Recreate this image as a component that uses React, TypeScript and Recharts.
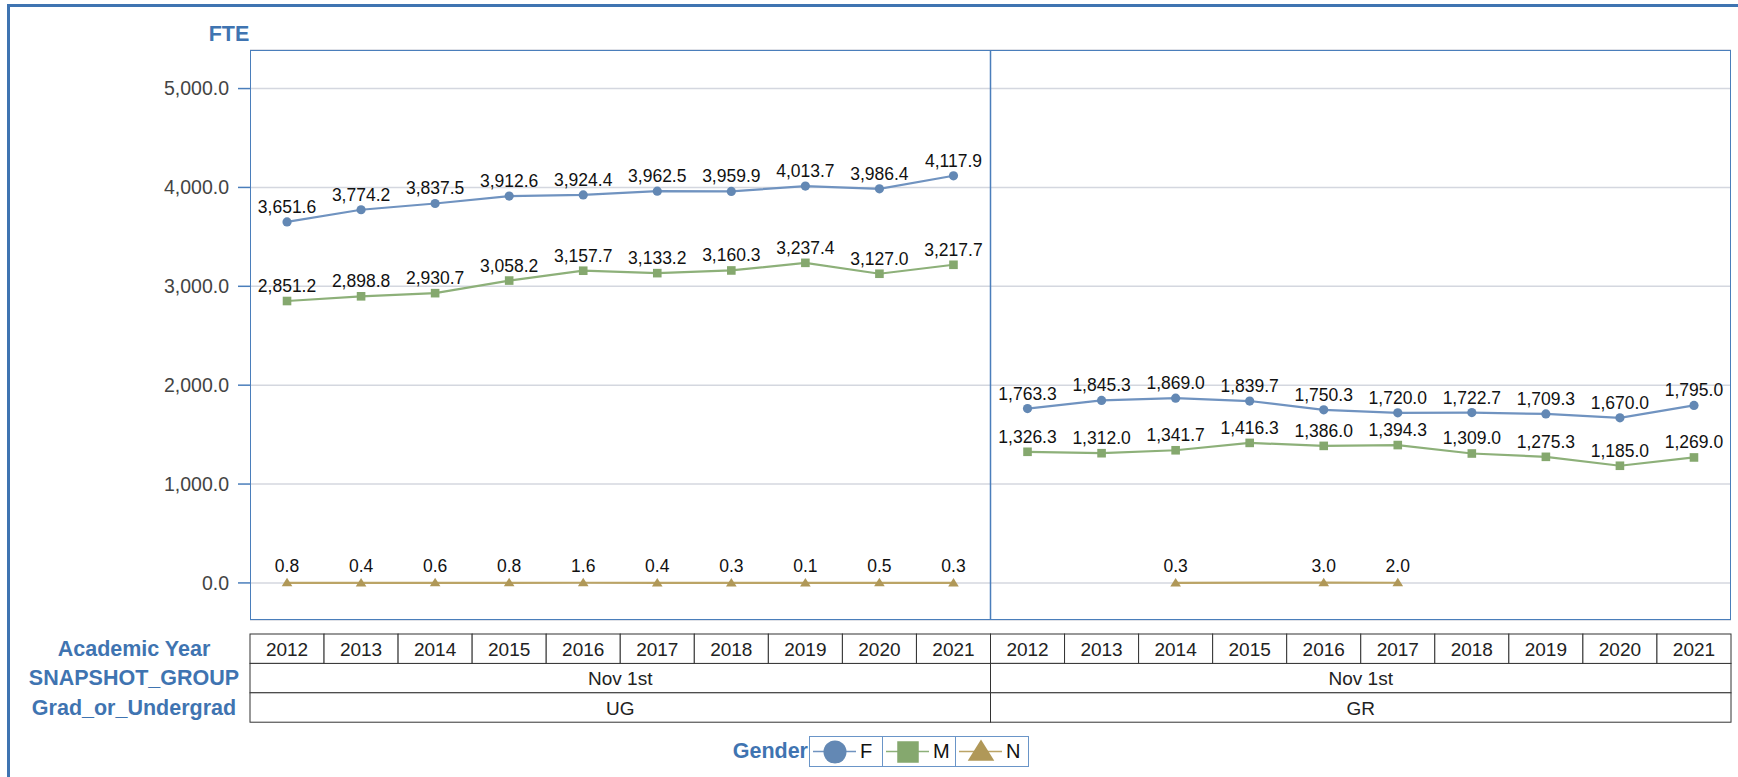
import React from "react";
import {
  CartesianGrid,
  LabelList,
  Line,
  LineChart,
  ReferenceLine,
  XAxis,
  YAxis,
} from "recharts";

// values
const years = ["2012", "2013", "2014", "2015", "2016", "2017", "2018", "2019", "2020", "2021"];
const groups = ["UG", "GR"];
const snapshot = "Nov 1st";
const yTicks = [0, 1000, 2000, 3000, 4000, 5000];

const fUG = [3651.6, 3774.2, 3837.5, 3912.6, 3924.4, 3962.5, 3959.9, 4013.7, 3986.4, 4117.9];
const mUG = [2851.2, 2898.8, 2930.7, 3058.2, 3157.7, 3133.2, 3160.3, 3237.4, 3127.0, 3217.7];
const nUG = [0.8, 0.4, 0.6, 0.8, 1.6, 0.4, 0.3, 0.1, 0.5, 0.3];
const fGR = [1763.3, 1845.3, 1869.0, 1839.7, 1750.3, 1720.0, 1722.7, 1709.3, 1670.0, 1795.0];
const mGR = [1326.3, 1312.0, 1341.7, 1416.3, 1386.0, 1394.3, 1309.0, 1275.3, 1185.0, 1269.0];
const nGR = [null, null, 0.3, null, 3.0, 2.0, null, null, null, null];

const rows = groups.flatMap((g, gi) =>
  years.map((y, yi) => ({
    pos: gi * years.length + yi + 0.5,
    year: y,
    group: g,
    F_UG: gi === 0 ? fUG[yi] : null,
    M_UG: gi === 0 ? mUG[yi] : null,
    N_UG: gi === 0 ? nUG[yi] : null,
    F_GR: gi === 1 ? fGR[yi] : null,
    M_GR: gi === 1 ? mGR[yi] : null,
    N_GR: gi === 1 ? nGR[yi] : null,
  }))
);

const COLORS: Record<string, { line: string; dot: string }> = {
  F: { line: "#7093c0", dot: "#6388b4" },
  M: { line: "#8db079", dot: "#85a86e" },
  N: { line: "#bba466", dot: "#b09858" },
};
const SHAPES: Record<string, string> = { F: "circle", M: "square", N: "triangle" };

const W = 1738;
const H = 777;
const PLOT_L = 250;
const PLOT_R = 1731;
const PLOT_T = 50;
const PLOT_B = 620;
const BAND = (PLOT_R - PLOT_L) / rows.length;
const TABLE_TOP = 634;
const ROW_H = 29.4;
const FONT = "'Liberation Sans', Arial, sans-serif";
const BLUE = "#3f74b1";

const fmt = (v: any) =>
  v == null || v === ""
    ? ""
    : Number(v).toLocaleString("en-US", { minimumFractionDigits: 1, maximumFractionDigits: 1 });

function marker(shape: string, color: string, x: number, y: number, s = 1, key?: string) {
  if (shape === "circle") return <circle key={key} cx={x} cy={y} r={4.6 * s} fill={color} />;
  if (shape === "square")
    return <rect key={key} x={x - 4.3 * s} y={y - 4.3 * s} width={8.6 * s} height={8.6 * s} fill={color} />;
  return (
    <path
      key={key}
      d={`M${x},${y - 5 * s} L${x + 5.3 * s},${y + 3.5 * s} L${x - 5.3 * s},${y + 3.5 * s} Z`}
      fill={color}
    />
  );
}

const dotFor = (g: string) => (p: any) => {
  if (p.cy == null || p.value == null || (Array.isArray(p.value) && p.value[1] == null))
    return <g key={`e${p.index}`} />;
  return marker(SHAPES[g], COLORS[g].dot, p.cx, p.cy, 1, `d${p.index}`);
};

function TableTick(props: any) {
  const { x, index } = props;
  const r = rows[index];
  if (!r) return null;
  const left = x - BAND / 2;
  const cells = [
    <g key="y">
      <rect x={left} y={TABLE_TOP} width={BAND} height={ROW_H} fill="#fff" stroke="#333" strokeWidth={1} />
      <text x={x} y={TABLE_TOP + ROW_H / 2 + 7} textAnchor="middle" fontSize={19} fontFamily={FONT} fill="#222">
        {r.year}
      </text>
    </g>,
  ];
  if (index % years.length === 0) {
    const gw = BAND * years.length;
    cells.push(
      <g key="g">
        <rect x={left} y={TABLE_TOP + ROW_H} width={gw} height={ROW_H} fill="#fff" stroke="#333" strokeWidth={1} />
        <text x={left + gw / 2} y={TABLE_TOP + ROW_H * 1.5 + 7} textAnchor="middle" fontSize={19} fontFamily={FONT} fill="#222">
          {snapshot}
        </text>
        <rect x={left} y={TABLE_TOP + ROW_H * 2} width={gw} height={ROW_H} fill="#fff" stroke="#333" strokeWidth={1} />
        <text x={left + gw / 2} y={TABLE_TOP + ROW_H * 2.5 + 7} textAnchor="middle" fontSize={19} fontFamily={FONT} fill="#222">
          {r.group}
        </text>
      </g>
    );
  }
  return <g>{cells}</g>;
}

const seriesKeys = ["F", "M", "N"].flatMap((g) => groups.map((grp) => ({ g, key: `${g}_${grp}` })));

const sideLabel: React.CSSProperties = {
  position: "absolute",
  left: 0,
  width: 268,
  textAlign: "center",
  color: BLUE,
  fontWeight: "bold",
  fontSize: 21.5,
  fontFamily: FONT,
  lineHeight: "24px",
};

export default function App() {
  return (
    <div style={{ position: "relative", width: W, height: H, background: "#fff", overflow: "hidden" }}>
      <style>{`body{margin:0}`}</style>
      {/* outer frame */}
      <div
        style={{
          position: "absolute",
          left: 7,
          top: 4,
          width: W,
          height: H,
          borderTop: `3px solid ${BLUE}`,
          borderLeft: `3px solid ${BLUE}`,
        }}
      />
      <div
        style={{
          position: "absolute",
          left: 200,
          top: 22,
          width: 58,
          textAlign: "center",
          color: BLUE,
          fontWeight: "bold",
          fontSize: 21.5,
          fontFamily: FONT,
        }}
      >
        FTE
      </div>
      <div style={{ position: "absolute", left: 0, top: 0 }}>
        <LineChart width={W} height={H} data={rows} margin={{ top: PLOT_T, right: W - PLOT_R, left: 0, bottom: 0 }}>
          <CartesianGrid vertical={false} stroke="#d4d7df" strokeWidth={1.5} />
          <XAxis
            dataKey="pos"
            type="number"
            domain={[0, rows.length]}
            ticks={rows.map((r) => r.pos)}
            height={H - PLOT_B}
            axisLine={false}
            tickLine={false}
            tick={<TableTick />}
            interval={0}
          />
          <YAxis
            type="number"
            domain={[-375, 5390]}
            ticks={yTicks}
            width={PLOT_L}
            allowDataOverflow
            axisLine={false}
            tickSize={12}
            tickMargin={9}
            tickLine={{ stroke: "#4a7ebb", strokeWidth: 1.5 }}
            tick={{ fill: "#444", fontSize: 19.5, fontFamily: FONT }}
            tickFormatter={fmt}
          />
          <ReferenceLine x={years.length} stroke="#4a7ebb" strokeWidth={1.5} />
          {seriesKeys.map(({ g, key }) => (
            <Line
              key={key}
              dataKey={key}
              type="linear"
              stroke={COLORS[g].line}
              strokeWidth={2.2}
              dot={dotFor(g)}
              activeDot={false}
              connectNulls={key === "N_GR"}
              isAnimationActive={false}
            >
              <LabelList
                dataKey={key}
                position="top"
                offset={g === "N" ? 11 : 9}
                formatter={fmt}
                fill="#111"
                fontSize={17.5}
                fontFamily={FONT}
              />
            </Line>
          ))}
        </LineChart>
      </div>
      {/* plot frame */}
      <div
        style={{
          position: "absolute",
          left: PLOT_L,
          top: PLOT_T,
          width: PLOT_R - PLOT_L,
          height: PLOT_B - PLOT_T,
          border: "1.5px solid #4a7ebb",
          boxSizing: "border-box",
          pointerEvents: "none",
        }}
      />
      <div style={{ ...sideLabel, top: TABLE_TOP + ROW_H * 0.5 - 12 }}>Academic Year</div>
      <div style={{ ...sideLabel, top: TABLE_TOP + ROW_H * 1.5 - 12 }}>SNAPSHOT_GROUP</div>
      <div style={{ ...sideLabel, top: TABLE_TOP + ROW_H * 2.5 - 12 }}>Grad_or_Undergrad</div>
      {/* legend */}
      <div style={{ position: "absolute", left: 700, top: 736, display: "flex", alignItems: "center", fontFamily: FONT }}>
        <div style={{ width: 108, textAlign: "right", color: BLUE, fontWeight: "bold", fontSize: 21.5, paddingRight: 1 }}>
          Gender
        </div>
        <div style={{ display: "flex", border: "1.5px solid #6a95c8" }}>
          {["F", "M", "N"].map((g, i) => (
            <div
              key={g}
              style={{
                display: "flex",
                alignItems: "center",
                width: 72,
                height: 29,
                borderLeft: i ? "1.5px solid #6a95c8" : "none",
              }}
            >
              <svg width={50} height={29}>
                <line x1={3} y1={14.5} x2={46} y2={14.5} stroke={COLORS[g].line} strokeWidth={1.5} />
                {marker(SHAPES[g], COLORS[g].dot, 25, 15, 2.5)}
              </svg>
              <span style={{ fontSize: 20, color: "#111" }}>{g}</span>
            </div>
          ))}
        </div>
      </div>
    </div>
  );
}
